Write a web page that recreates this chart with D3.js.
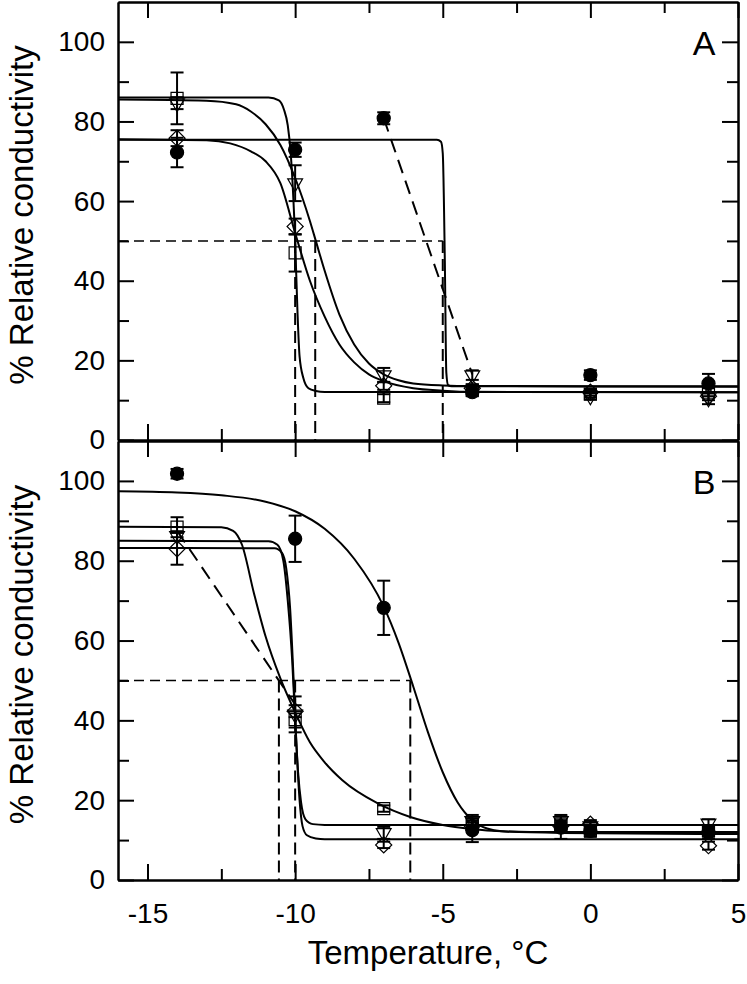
<!DOCTYPE html>
<html>
<head>
<meta charset="utf-8">
<script src="https://cdn.jsdelivr.net/npm/d3@7"></script>
<style>
  body { margin: 0; background: #fff; }
  text { font-family: "Liberation Sans", Arial, sans-serif; }
</style>
</head>
<body>
<svg id="chart" width="747" height="984"></svg>
<script>
// ---- data ----
var tempsA = [-14, -10, -7, -4, 0, 4];
var circleA   = [72.2, 72.9, 80.8, 12.0, 16.3, 14.2];
var circleAErr = [3.7, 1.8, 1.5, 1.0, 1.2, 2.4];
var triA      = [84.6, 64.5, 16.3, 16.3, 11.0, 10.5];
var triAErr   = [1.5, 4.5, 1.8, 1.2, 0.8, 1.5];
var squareA   = [85.8, 47.0, 10.5, 12.5, 11.5, 12.0];
var squareAErr = [6.5, 4.7, 1.0, 1.0, 0.8, 1.0];
var diamondA  = [75.8, 53.6, 13.6, 13.0, 12.0, 11.0];
var diamondAErr = [2.0, 2.0, 1.0, 1.0, 0.8, 1.0];

var tempsB = [-14, -10, -7, -4, -1, 0, 4];
var circleB   = [101.8, 85.5, 68.2, 12.5, 13.1, 12.3, 11.9];
var circleBErr = [1.2, 5.8, 6.8, 3.0, 2.8, 1.5, 1.5];
var triB      = [86.2, 41.5, 11.8, 14.8, 14.8, 13.5, 14.2];
var triBErr   = [1.2, 4.5, 1.5, 1.5, 1.5, 1.0, 1.0];
var squareB   = [88.4, 40.2, 17.9, 14.0, 14.0, 12.5, 12.3];
var squareBErr = [2.5, 2.0, 0.8, 1.0, 1.0, 1.0, 1.0];
var diamondB  = [83.0, 42.3, 8.8, 13.5, 13.5, 14.0, 8.6];
var diamondBErr = [4.0, 1.5, 0.8, 1.0, 1.0, 1.0, 1.0];

var fitACircle = [[-16,75.4],[-5.2,75.4],[-5.06,74.9],[-5.0,72],[-4.93,45],[-4.88,17],[-4.82,13.8],[-4.7,13.5],[5,13.4]];
var fitASquare = [[-16,86],[-10.9,86],[-10.55,85.3],[-10.38,83],[-10.25,79],[-10.15,72],[-10.0,50],[-9.92,32],[-9.85,21],[-9.72,15.5],[-9.55,13],[-9.3,12.3],[-9,12.05],[5,12]];
var fitATri = [[-16,85.5],[-13,85.2],[-12,84.3],[-11.5,82.5],[-11,79.3],[-10.5,74.1],[-10,65.8],[-9.5,55],[-9.3,50],[-9,42.5],[-8.5,31.5],[-8,24],[-7.5,19.2],[-7,16.5],[-6.5,15],[-6,14.2],[-5,13.7],[-4,13.55],[5,13.5]];
var fitADiamond = [[-16,75.5],[-13,75.3],[-12.2,74.5],[-11.5,72.5],[-11,70],[-10.5,64.5],[-10,52],[-9.5,40],[-9,31],[-8.5,24],[-8,19.5],[-7.5,16.5],[-7,14.8],[-6,13],[-5,12.4],[-4,12.1],[5,12]];

var fitBCircle = [[-16,97.4],[-14,97.1],[-12.5,96.4],[-11,94.8],[-10,92.4],[-9,88],[-8,80.5],[-7,68.5],[-6.5,59.5],[-6,48.5],[-5.5,37],[-5,27],[-4.5,19.5],[-4,15],[-3.5,12.9],[-3,12.2],[-2,12.02],[5,12]];
var fitBSquare = [[-16,88.5],[-12.5,88.4],[-12.1,87.5],[-11.8,84],[-11.4,72],[-11,61],[-10.5,50.5],[-10,42],[-9.5,34.5],[-9,29.5],[-8.4,25],[-7.2,19.2],[-6.1,15.8],[-5,13.8],[-4,12.8],[-3,12.2],[-1,11.8],[5,11.5]];
var fitBTri = [[-16,85],[-10.9,84.9],[-10.6,84],[-10.4,80],[-10.25,70],[-10.1,55],[-10.0,40],[-9.9,27],[-9.8,19.5],[-9.65,15.2],[-9.4,14],[-9,13.8],[5,13.8]];
var fitBDiamond = [[-16,83.2],[-10.7,83.1],[-10.45,82],[-10.3,78],[-10.17,68],[-10.05,50],[-9.95,33],[-9.85,20],[-9.75,13.5],[-9.6,11.2],[-9.3,10.4],[-9,10.2],[5,10.2]];

// 50 % reference lines
var half = 50;
var dropsA = [-10.0, -9.32, -5.0];
var dropsB = [-10.55, -10.0, -6.1];
var linkA = [[-7, 80.8], [-4, 16.5]];
var linkB = [[-14, 87.5], [-10, 44]];

var xMajor = [-15, -10, -5, 0, 5];
var xMinor = [-12.5, -7.5, -2.5, 2.5];
var yMajor = [0, 20, 40, 60, 80, 100];
var yMinor = [10, 30, 50, 70, 90];

// ---- drawing ----
var svg = d3.select("#chart");
var x = d3.scaleLinear().domain([-16, 5]).range([118, 738]);
var yA = d3.scaleLinear().domain([0, 110]).range([440, 2]);
var yB = d3.scaleLinear().domain([0, 110]).range([880, 441]);
var plain = function(d) { return String(d); };   // hyphen minus like the original

var line = function(y) {
  return d3.line().x(function(d) { return x(d[0]); }).y(function(d) { return y(d[1]); }).curve(d3.curveMonotoneX);
};

function styleAxis(g) {
  g.selectAll("path, line").attr("stroke", "#000").attr("stroke-width", 2);
  g.selectAll("text").attr("font-size", 28).attr("fill", "#000")
    .attr("font-family", "'Liberation Sans', Arial, sans-serif");
}

function frame(y, showX) {
  var top = y.range()[1], bottom = y.range()[0];
  var g = svg.append("g");
  g.append("g").attr("transform", "translate(118,0)")
    .call(d3.axisLeft(y).tickValues(yMajor).tickSize(-16).tickSizeOuter(0).tickPadding(13).tickFormat(plain)).call(styleAxis);
  g.append("g").attr("transform", "translate(118,0)")
    .call(d3.axisLeft(y).tickValues(yMinor).tickSize(-11).tickSizeOuter(0).tickFormat("")).call(styleAxis);
  g.append("g").attr("transform", "translate(738,0)")
    .call(d3.axisRight(y).tickValues(yMajor).tickSize(-16).tickSizeOuter(0).tickFormat("")).call(styleAxis);
  g.append("g").attr("transform", "translate(738,0)")
    .call(d3.axisRight(y).tickValues(yMinor).tickSize(-11).tickSizeOuter(0).tickFormat("")).call(styleAxis);
  g.append("g").attr("transform", "translate(0," + top + ")")
    .call(d3.axisTop(x).tickValues(xMajor).tickSize(-16).tickSizeOuter(0).tickFormat("")).call(styleAxis);
  g.append("g").attr("transform", "translate(0," + top + ")")
    .call(d3.axisTop(x).tickValues(xMinor).tickSize(-11).tickSizeOuter(0).tickFormat("")).call(styleAxis);
  var bx = d3.axisBottom(x).tickValues(xMajor).tickSize(-16).tickSizeOuter(0).tickPadding(23).tickFormat(showX ? plain : "");
  g.append("g").attr("transform", "translate(0," + bottom + ")").call(bx).call(styleAxis);
  g.append("g").attr("transform", "translate(0," + bottom + ")")
    .call(d3.axisBottom(x).tickValues(xMinor).tickSize(-11).tickSizeOuter(0).tickFormat("")).call(styleAxis);
}

var shapes = {
  circle:   { type: d3.symbolCircle, size: 135, fill: "#000", rot: 0 },
  triangle: { type: d3.symbolTriangle, size: 95, fill: "none", rot: 180 },
  square:   { type: d3.symbolSquare, size: 145, fill: "none", rot: 0 },
  diamond:  { type: d3.symbolSquare, size: 130, fill: "none", rot: 45 }
};

function panel(y, letter, temps, series, fits, drops, link) {
  var g = svg.append("g");
  var bottom = y.range()[0];
  // 50 % guides
  g.append("line").attr("x1", x(-16)).attr("x2", x(d3.max(drops))).attr("y1", y(half)).attr("y2", y(half))
    .attr("stroke", "#000").attr("stroke-width", 1.5).attr("stroke-dasharray", "10,6");
  g.selectAll(".drop").data(drops).enter().append("line")
    .attr("x1", function(d) { return x(d); }).attr("x2", function(d) { return x(d); })
    .attr("y1", y(half)).attr("y2", bottom)
    .attr("stroke", "#000").attr("stroke-width", 2).attr("stroke-dasharray", "12,6");
  g.append("path").datum(link).attr("d", line(y)).attr("fill", "none")
    .attr("stroke", "#000").attr("stroke-width", 2).attr("stroke-dasharray", "14,8");
  // fits
  fits.forEach(function(f) {
    g.append("path").datum(f).attr("d", line(y)).attr("fill", "none")
      .attr("stroke", "#000").attr("stroke-width", 2);
  });
  // error bars and markers
  series.forEach(function(s) {
    var pts = temps.map(function(t, i) { return { t: t, v: s.values[i], e: s.err[i] }; });
    var eb = g.append("g").attr("stroke", "#000").attr("stroke-width", 2);
    eb.selectAll(".v").data(pts).enter().append("line")
      .attr("x1", function(d) { return x(d.t); }).attr("x2", function(d) { return x(d.t); })
      .attr("y1", function(d) { return y(d.v - d.e); }).attr("y2", function(d) { return y(d.v + d.e); });
    [-1, 1].forEach(function(sg) {
      eb.selectAll(".c" + sg).data(pts).enter().append("line")
        .attr("x1", function(d) { return x(d.t) - 6.5; }).attr("x2", function(d) { return x(d.t) + 6.5; })
        .attr("y1", function(d) { return y(d.v + sg * d.e); }).attr("y2", function(d) { return y(d.v + sg * d.e); });
    });
    var sh = shapes[s.shape];
    g.selectAll(".m").data(pts).enter().append("path")
      .attr("d", d3.symbol().type(sh.type).size(sh.size))
      .attr("transform", function(d) { return "translate(" + x(d.t) + "," + y(d.v) + ") rotate(" + sh.rot + ")"; })
      .attr("fill", sh.fill).attr("stroke", "#000").attr("stroke-width", 1.2);
  });
  g.append("text").attr("x", 704).attr("y", y(110) + 53).attr("text-anchor", "middle")
    .attr("font-size", 34).text(letter);
  g.append("text").attr("transform", "translate(33," + ((y.range()[0] + y.range()[1]) / 2 - 6) + ") rotate(-90)")
    .attr("text-anchor", "middle").attr("font-size", 33).text("% Relative conductivity");
}

panel(yA, "A", tempsA, [
  { shape: "circle", values: circleA, err: circleAErr },
  { shape: "triangle", values: triA, err: triAErr },
  { shape: "square", values: squareA, err: squareAErr },
  { shape: "diamond", values: diamondA, err: diamondAErr }
], [fitACircle, fitASquare, fitATri, fitADiamond], dropsA, linkA);

panel(yB, "B", tempsB, [
  { shape: "circle", values: circleB, err: circleBErr },
  { shape: "triangle", values: triB, err: triBErr },
  { shape: "square", values: squareB, err: squareBErr },
  { shape: "diamond", values: diamondB, err: diamondBErr }
], [fitBCircle, fitBSquare, fitBTri, fitBDiamond], dropsB, linkB);

frame(yA, false);
frame(yB, true);

svg.append("text").attr("x", x(-5.5)).attr("y", 964).attr("text-anchor", "middle")
  .attr("font-size", 33).text("Temperature, \u00B0C");
</script>
</body>
</html>
